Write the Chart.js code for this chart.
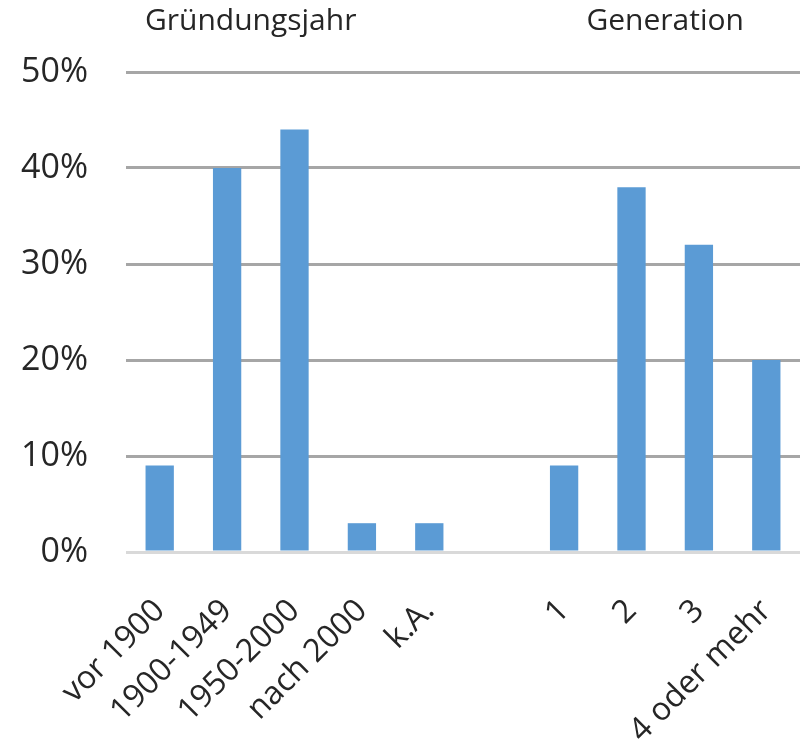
<!DOCTYPE html>
<html>
<head>
<meta charset="utf-8">
<script src="https://cdn.jsdelivr.net/npm/chart.js@4"></script>
<style>
  html, body { margin: 0; padding: 0; background: #ffffff; }
  #wrap { width: 800px; height: 751px; }
</style>
</head>
<body>
<div id="wrap"><canvas id="chart"></canvas></div>
<script>
'use strict';

// ── Daten ────────────────────────────────────────────────────────────────────
var categories = ['vor 1900', '1900-1949', '1950-2000', 'nach 2000', 'k.A.', '', '1', '2', '3', '4 oder mehr'];
var values     = [9, 40, 44, 3, 3, null, 9, 38, 32, 20];
var yTicks     = [0, 10, 20, 30, 40, 50];
var groupTitles = [
    { text: 'Gründungsjahr', at: 1.35 },
    { text: 'Generation',    at: 7.5 }
];

var FONT = "'Open Sans', sans-serif";
var TEXT = '#262626';

// ── Gruppentitel über der Grafik ─────────────────────────────────────────────
var groupTitlePlugin = {
    id: 'groupTitles',
    afterDraw: function (chart) {
        var ctx = chart.ctx;
        var x = chart.scales.x;
        ctx.save();
        ctx.font = '30px ' + FONT;
        ctx.fillStyle = TEXT;
        ctx.textAlign = 'center';
        ctx.textBaseline = 'middle';
        groupTitles.forEach(function (g) {
            ctx.fillText(g.text, x.getPixelForValue(g.at), 21);
        });
        ctx.restore();
    }
};

new Chart(document.getElementById('chart').getContext('2d'), {
    type: 'bar',
    data: {
        labels: categories,
        datasets: [{
            data: values,
            backgroundColor: '#5b9bd5',
            borderWidth: 0,
            barPercentage: 0.7,
            categoryPercentage: 0.6
        }]
    },
    options: {
        responsive: true,
        maintainAspectRatio: false,
        animation: false,
        layout: { padding: { top: 72, right: 0, left: 0, bottom: 0 } },
        plugins: {
            legend: { display: false },
            tooltip: { enabled: false }
        },
        scales: {
            x: {
                grid: { display: false },
                border: { display: false },
                ticks: {
                    color: TEXT,
                    font: { family: FONT, size: 32 },
                    minRotation: 45,
                    maxRotation: 45,
                    autoSkip: false,
                    padding: 32
                },
                afterFit: function (s) {
                    s.height = 199;
                    // Plotfläche bis zum rechten Rand
                    s.paddingLeft = 0;
                    s.paddingRight = 0;
                }
            },
            y: {
                min: 0,
                max: 50,
                afterBuildTicks: function (s) {
                    s.ticks = yTicks.map(function (v) { return { value: v }; });
                },
                border: { display: false },
                grid: {
                    drawTicks: false,
                    lineWidth: 3,
                    color: function (c) {
                        return c.tick && c.tick.value === 0 ? '#d9d9d9' : '#a6a6a6';
                    }
                },
                ticks: {
                    color: TEXT,
                    font: { family: FONT, size: 34 },
                    padding: 38,
                    callback: function (v) { return v + '%'; }
                },
                afterFit: function (s) { s.width = 126; }
            }
        }
    },
    plugins: [groupTitlePlugin]
});
</script>
</body>
</html>
